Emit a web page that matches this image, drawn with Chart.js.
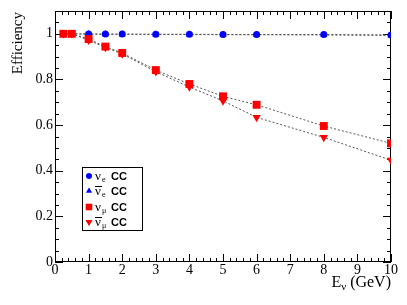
<!DOCTYPE html>
<html>
<head>
<meta charset="utf-8">
<script src="https://cdn.jsdelivr.net/npm/chart.js@4"></script>
<style>
  body { margin: 0; background: #fff; }
</style>
</head>
<body>
<canvas id="myChart" width="407" height="305"></canvas>
<script>
const energies = [0.25, 0.5, 1, 1.5, 2, 3, 4, 5, 6, 8, 10]
const nueCC = [1.0, 1.0, 0.999, 0.999, 0.999, 0.998, 0.998, 0.997, 0.997, 0.997, 0.995]
const nuebarCC = [1.0, 1.0, 0.999, 0.998, 0.998, 0.997, 0.997, 0.996, 0.996, 0.995, 0.993]
const numuCC = [1.0, 1.0, 0.977, 0.944, 0.916, 0.841, 0.780, 0.726, 0.689, 0.596, 0.520]
const numubarCC = [1.0, 1.0, 0.972, 0.940, 0.912, 0.834, 0.767, 0.706, 0.634, 0.546, 0.446]
const xTicks = [0, 1, 2, 3, 4, 5, 6, 7, 8, 9, 10]
const yTicks = [0, 0.2, 0.4, 0.6, 0.8, 1]

const serif = '"Liberation Serif", "Times New Roman", serif'
const sans = '"Liberation Sans", Arial, sans-serif'

const pts = arr => energies.map((x, i) => ({ x: x, y: arr[i] }))

const lineStyle = {
    borderColor: '#555',
    borderWidth: 1,
    borderDash: [2, 2],
    showLine: true,
    tension: 0
}

const series = [
    { label: 'e', anti: false, data: pts(nueCC), color: '#0000ff', style: 'circle', radius: 3.5, rotation: 0, order: 1 },
    { label: 'e', anti: true, data: pts(nuebarCC), color: '#0000ff', style: 'triangle', radius: 4, rotation: 0, order: 3 },
    { label: '\u03bc', anti: false, data: pts(numuCC), color: '#ff0000', style: 'rect', radius: 5.6, rotation: 0, order: 0 },
    { label: '\u03bc', anti: true, data: pts(numubarCC), color: '#ff0000', style: 'triangle', radius: 4.8, rotation: 180, order: 2 }
]

// ROOT-like frame with inward ticks on all four sides
const framePlugin = {
    id: 'frame',
    beforeDatasetsDraw(chart) {
        const c = chart.ctx
        const a = chart.chartArea
        const xs = chart.scales.x
        const ys = chart.scales.y
        c.save()
        c.strokeStyle = '#000'
        c.lineWidth = 1
        c.strokeRect(a.left + 0.5, a.top + 0.5, a.right - a.left - 1, a.bottom - a.top - 1)
        c.beginPath()
        for (let k = 0; k <= 50; k++) {
            const v = k * 0.2
            const px = Math.round(xs.getPixelForValue(v)) + 0.5
            const len = k % 5 === 0 ? 8 : 4
            c.moveTo(px, a.bottom); c.lineTo(px, a.bottom - len)
            c.moveTo(px, a.top); c.lineTo(px, a.top + len)
        }
        for (let k = 0; k <= 22; k++) {
            const v = k * 0.05
            const py = Math.round(ys.getPixelForValue(v)) + 0.5
            const len = k % 4 === 0 ? 8 : 4
            c.moveTo(a.left, py); c.lineTo(a.left + len, py)
            c.moveTo(a.right, py); c.lineTo(a.right - len, py)
        }
        c.stroke()
        c.restore()
    },
    afterDraw(chart) {
        const c = chart.ctx
        const a = chart.chartArea
        c.save()
        c.fillStyle = '#000'
        // x title: E_nu (GeV)
        c.textBaseline = 'alphabetic'
        c.font = '16px ' + serif
        const w1 = c.measureText('E').width
        const w3 = c.measureText(' (GeV)').width
        c.font = '11px ' + serif
        const w2 = c.measureText('\u03bd').width
        let x = a.right - (w1 + w2 + w3)
        c.font = '16px ' + serif
        c.fillText('E', x, 287)
        c.font = '11px ' + serif
        c.fillText('\u03bd', x + w1, 290)
        c.font = '16px ' + serif
        c.fillText(' (GeV)', x + w1 + w2, 287)
        // y title
        c.translate(22, a.top + 1)
        c.rotate(-Math.PI / 2)
        c.textAlign = 'right'
        c.font = '15px ' + serif
        c.fillText('Efficiency', 0, 0)
        c.restore()

        // legend box
        c.save()
        c.fillStyle = '#fff'
        c.fillRect(82, 167, 61, 64)
        c.strokeStyle = '#000'
        c.lineWidth = 1
        c.strokeRect(82.5, 167.5, 60, 63)
        const rows = [176, 191, 207, 222]
        series.forEach((s, i) => {
            const y = rows[i]
            c.fillStyle = s.color
            Chart.helpers.drawPoint(c, {
                pointStyle: s.style,
                radius: s.radius * 0.8,
                rotation: s.rotation,
                borderWidth: 0
            }, 89, y)
            c.fill()
            c.fillStyle = '#000'
            c.textBaseline = 'alphabetic'
            c.font = '13px ' + serif
            c.fillText('\u03bd', 95, y + 4)
            if (s.anti) {
                c.fillRect(95, y - 5, 7, 1)
            }
            c.font = '8px ' + serif
            c.fillText(s.label, 102, y + 6)
            c.font = 'bold 11px ' + sans
            c.fillText('CC', 111, y + 4)
        })
        c.restore()
    }
}

const ctx = document.getElementById('myChart').getContext('2d')

const config = {
    type: 'line',
    data: {
        datasets: series.map(s => Object.assign({
            label: s.label,
            data: s.data,
            order: s.order,
            pointStyle: s.style,
            pointRadius: s.radius,
            pointRotation: s.rotation,
            pointBackgroundColor: s.color,
            pointBorderWidth: 0,
            pointHoverRadius: s.radius
        }, lineStyle))
    },
    options: {
        responsive: false,
        animation: false,
        devicePixelRatio: 1,
        layout: { padding: { top: 11, right: 16, left: 0, bottom: 0 } },
        plugins: {
            legend: { display: false },
            tooltip: { enabled: false }
        },
        scales: {
            x: {
                type: 'linear',
                min: 0,
                max: 10,
                afterBuildTicks: s => { s.ticks = xTicks.map(v => ({ value: v })) },
                afterFit: s => { s.height = 43 },
                grid: { display: false, drawTicks: false },
                border: { display: false },
                ticks: {
                    color: '#000',
                    font: { family: serif, size: 14 },
                    padding: 0,
                    maxRotation: 0
                }
            },
            y: {
                type: 'linear',
                min: 0,
                max: 1.1,
                afterBuildTicks: s => { s.ticks = yTicks.map(v => ({ value: v })) },
                afterFit: s => { s.width = 55 },
                grid: { display: false, drawTicks: false },
                border: { display: false },
                ticks: {
                    color: '#000',
                    font: { family: serif, size: 14 },
                    padding: 2,
                    callback: v => String(Math.round(v * 10) / 10)
                }
            }
        }
    },
    plugins: [framePlugin]
}

const myChart = new Chart(ctx, config)
</script>
</body>
</html>
